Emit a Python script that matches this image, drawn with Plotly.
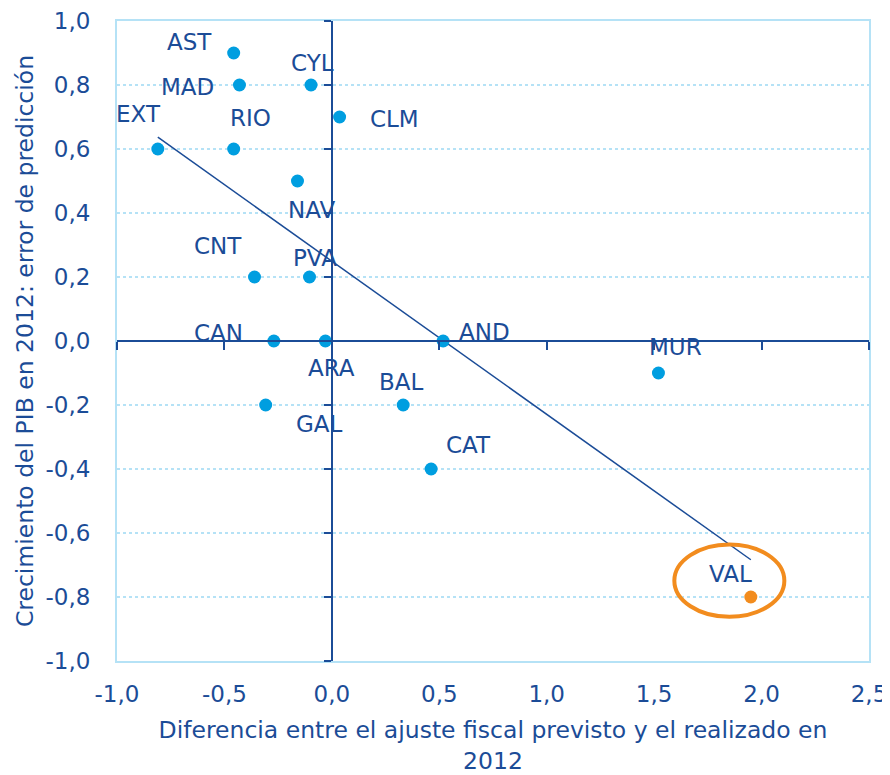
import numpy as np
import plotly.graph_objects as go

# data
regions = ["AST", "MAD", "CYL", "CLM", "EXT", "RIO", "NAV", "CNT", "PVA",
           "CAN", "ARA", "AND", "MUR", "GAL", "BAL", "CAT", "VAL"]
ajuste = [-0.457, -0.43, -0.097, 0.036, -0.81, -0.457, -0.16, -0.36, -0.104,
          -0.27, -0.03, 0.518, 1.52, -0.308, 0.332, 0.462, 1.95]
error_pib = [0.9, 0.8, 0.8, 0.7, 0.6, 0.6, 0.5, 0.2, 0.2,
             0.0, 0.0, 0.0, -0.1, -0.2, -0.2, -0.4, -0.8]
highlight = "VAL"

x_ticks = [-1.0, -0.5, 0.0, 0.5, 1.0, 1.5, 2.0, 2.5]
y_ticks = [-1.0, -0.8, -0.6, -0.4, -0.2, 0.0, 0.2, 0.4, 0.6, 0.8, 1.0]

# label offsets in pixels (dx right, dy up)
label_shift = {
    "AST": (-44, 11), "MAD": (-52, -2), "CYL": (1, 22), "CLM": (55, -2),
    "EXT": (-19, 35), "RIO": (17, 31), "NAV": (14, -29), "CNT": (-37, 31),
    "PVA": (5, 19), "CAN": (-55, 8), "ARA": (6, -27), "AND": (41, 9),
    "MUR": (17, 26), "GAL": (54, -19), "BAL": (-2, 23), "CAT": (37, 24),
    "VAL": (-20, 23),
}

DARK = "#1B4C97"
LIGHT = "#009EE0"
ORANGE = "#F28C1E"
GRID = "#B5E2F6"
FONT = "DejaVu Sans"

fig = go.Figure()

# regression line
slope, intercept = np.polyfit(ajuste, error_pib, 1)
xfit = np.array([min(ajuste), max(ajuste)])
fig.add_trace(go.Scatter(x=xfit, y=slope * xfit + intercept, mode="lines",
                         line=dict(color=DARK, width=1.5), hoverinfo="skip"))

colors = [ORANGE if r == highlight else LIGHT for r in regions]
fig.add_trace(go.Scatter(x=ajuste, y=error_pib, mode="markers", text=regions,
                         marker=dict(color=colors, size=13)))

# axes crossing at zero (ticks only, no labels)
fig.add_trace(go.Scatter(x=[0], y=[0], xaxis="x2", yaxis="y2", mode="markers",
                         marker=dict(opacity=0), hoverinfo="skip"))

for r, x, y in zip(regions, ajuste, error_pib):
    dx, dy = label_shift[r]
    fig.add_annotation(x=x, y=y, text=r, showarrow=False, xshift=dx, yshift=dy,
                       font=dict(family=FONT, size=23, color=DARK))

# orange ellipse round the highlighted region
i = regions.index(highlight)
fig.add_shape(type="circle", xref="x", yref="y",
              x0=ajuste[i] - 0.356, x1=ajuste[i] + 0.156,
              y0=error_pib[i] - 0.062, y1=error_pib[i] + 0.164,
              line=dict(color=ORANGE, width=4))

# the page body adds an 8px margin, so the figure is 8px smaller
fig.update_layout(
    width=882, height=767,
    margin=dict(l=109, r=21, t=13, b=114),
    plot_bgcolor="white", paper_bgcolor="white",
    showlegend=False,
    font=dict(family=FONT, size=23, color=DARK),
    xaxis=dict(range=[-1, 2.5], tickvals=x_ticks, automargin=False,
               ticktext=[f"{v:.1f}".replace(".", ",") for v in x_ticks],
               showgrid=False, zeroline=False, showline=True, mirror=True,
               linecolor=GRID, linewidth=2, ticks="", ticklabelstandoff=11,
               ticklabeloverflow="allow",
               title=dict(text="Diferencia entre el ajuste fiscal previsto y el realizado en<br>2012",
                          standoff=20, font=dict(size=23.5))),
    yaxis=dict(range=[-1, 1], tickvals=y_ticks, automargin=False,
               ticktext=[f"{v:.1f}".replace(".", ",") for v in y_ticks],
               showgrid=True, gridcolor=GRID, griddash="dot", gridwidth=2,
               zeroline=False, showline=True, mirror=True,
               linecolor=GRID, linewidth=2, ticks="", ticklabelstandoff=20,
               ticklabeloverflow="allow",
               title=dict(text="Crecimiento del PIB en 2012: error de predicción",
                          standoff=5, font=dict(size=23.5))),
    xaxis2=dict(range=[-1, 2.5], overlaying="x", anchor="free", position=0.5,
                tickvals=x_ticks, showticklabels=False, showgrid=False,
                zeroline=False, showline=True, linecolor=DARK, linewidth=2,
                ticks="outside", ticklen=8, tickwidth=2, tickcolor=DARK),
    yaxis2=dict(range=[-1, 1], overlaying="y", anchor="free", position=1 / 3.5,
                tickvals=y_ticks, showticklabels=False, showgrid=False,
                zeroline=False, showline=True, linecolor=DARK, linewidth=2,
                ticks="outside", ticklen=7, tickwidth=2, tickcolor=DARK),
)

fig.write_html("out.html")
